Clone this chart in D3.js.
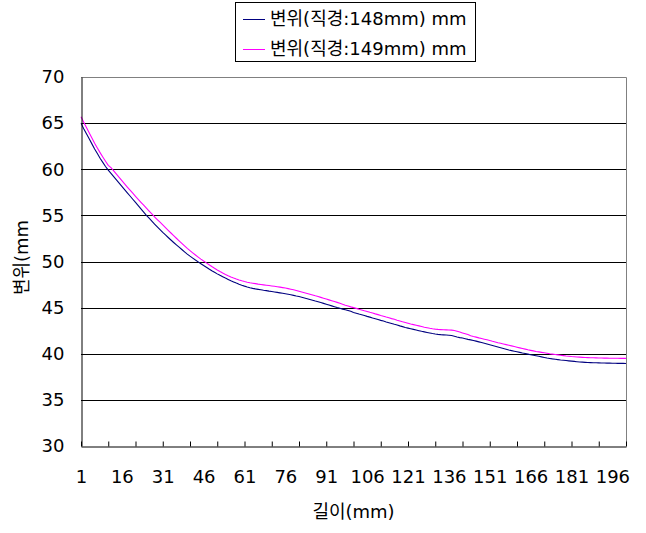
<!DOCTYPE html>
<html><head><meta charset="utf-8">
<script src="https://cdn.jsdelivr.net/npm/d3@7/dist/d3.min.js"></script>
<style>
body{margin:0;background:#fff;}
svg{display:block;}
text{font-family:"DejaVu Sans","Noto Sans CJK KR",sans-serif;fill:#000;}
</style></head>
<body><svg id="c" width="646" height="533"></svg>
<script>
const seriesNames = ["변위(직경:148mm) mm", "변위(직경:149mm) mm"];
const seriesColors = ["#000080", "#ff00ff"];
const xTitle = "길이(mm)";
const yTitle = "변위(mm";
const yTicks = [30,35,40,45,50,55,60,65,70];
const xTickLabels = [1,16,31,46,61,76,91,106,121,136,151,166,181,196];
const xTickMarks = [1,11,21,31,41,51,61,71,81,91,101,111,121,131,141,151,161,171,181,191,201];

const d148 = [
65.00,64.40,63.85,63.30,62.75,62.20,61.70,61.20,60.75,60.30,
59.90,59.55,59.20,58.85,58.50,58.15,57.80,57.45,57.10,56.75,
56.40,56.05,55.70,55.35,55.00,54.70,54.38,54.06,53.75,53.45,
53.15,52.88,52.60,52.33,52.06,51.80,51.55,51.30,51.05,50.80,
50.58,50.37,50.16,49.96,49.76,49.56,49.37,49.18,49.00,48.83,
48.66,48.50,48.35,48.20,48.06,47.92,47.79,47.66,47.54,47.43,
47.33,47.24,47.16,47.09,47.03,46.98,46.93,46.88,46.84,46.79,
46.75,46.70,46.65,46.60,46.55,46.50,46.45,46.40,46.33,46.26,
46.20,46.12,46.04,45.96,45.88,45.80,45.71,45.63,45.55,45.46,
45.37,45.28,45.19,45.10,45.01,44.93,44.84,44.76,44.68,44.60,
44.48,44.40,44.31,44.23,44.14,44.05,43.97,43.88,43.80,43.71,
43.62,43.54,43.45,43.37,43.28,43.19,43.11,43.02,42.94,42.85,
42.78,42.71,42.64,42.57,42.50,42.43,42.37,42.31,42.25,42.19,
42.14,42.10,42.07,42.05,42.03,42.01,41.97,41.90,41.82,41.75,
41.70,41.63,41.56,41.50,41.44,41.37,41.29,41.21,41.13,41.05,
40.97,40.89,40.81,40.73,40.65,40.57,40.49,40.40,40.34,40.28,
40.22,40.15,40.08,40.02,39.96,39.90,39.84,39.78,39.72,39.66,
39.60,39.54,39.49,39.44,39.40,39.36,39.32,39.29,39.26,39.23,
39.20,39.17,39.14,39.11,39.09,39.07,39.05,39.04,39.03,39.02,
39.01,39.00,38.99,38.98,38.98,38.97,38.97,38.96,38.96,38.96,38.95
];
const d149 = [
65.70,65.10,64.52,63.95,63.38,62.82,62.30,61.80,61.32,60.86,
60.42,60.18,59.82,59.47,59.12,58.77,58.42,58.07,57.73,57.40,
57.07,56.74,56.42,56.10,55.78,55.47,55.16,54.85,54.55,54.26,
53.96,53.67,53.38,53.09,52.80,52.52,52.24,51.97,51.70,51.43,
51.18,50.94,50.71,50.48,50.26,50.05,49.85,49.65,49.45,49.26,
49.08,48.91,48.75,48.60,48.46,48.33,48.21,48.10,48.00,47.91,
47.83,47.76,47.70,47.65,47.60,47.55,47.51,47.47,47.43,47.39,
47.35,47.31,47.27,47.22,47.17,47.12,47.06,47.00,46.93,46.86,
46.78,46.70,46.62,46.54,46.46,46.37,46.28,46.20,46.11,46.02,
45.93,45.84,45.75,45.66,45.57,45.48,45.36,45.26,45.17,45.08,
45.00,44.92,44.83,44.75,44.66,44.58,44.49,44.41,44.32,44.24,
44.15,44.07,43.98,43.90,43.81,43.73,43.64,43.56,43.47,43.39,
43.31,43.23,43.16,43.09,43.02,42.95,42.88,42.82,42.76,42.71,
42.67,42.64,42.62,42.60,42.59,42.58,42.56,42.52,42.44,42.35,
42.26,42.17,42.08,41.95,41.87,41.80,41.72,41.65,41.58,41.51,
41.43,41.35,41.28,41.20,41.13,41.06,40.99,40.92,40.85,40.78,
40.71,40.64,40.57,40.50,40.43,40.37,40.31,40.25,40.20,40.15,
40.10,40.05,40.00,39.96,39.92,39.88,39.84,39.80,39.76,39.73,
39.70,39.68,39.65,39.63,39.61,39.59,39.58,39.57,39.56,39.55,
39.54,39.54,39.53,39.53,39.52,39.52,39.51,39.51,39.50,39.50,39.50
];
const series = [d148, d149];

const svg = d3.select("#c");
const L = 81, R = 626, T = 77, B = 446;
const x = d3.scaleLinear().domain([1, d148.length]).range([L, R]);
const y = d3.scaleLinear().domain([30, 70]).range([B, T]);
const FS = 18;

// gridlines
svg.append("g").selectAll("line").data(yTicks.filter(v => v > 30 && v < 70)).join("line")
  .attr("x1", L).attr("x2", R).attr("y1", d => Math.round(y(d)) + 0.5).attr("y2", d => Math.round(y(d)) + 0.5)
  .attr("stroke", "#000").attr("stroke-width", 1);
// top/right border gray
svg.append("path").attr("d", `M${L},${T+0.5}H${R+0.5}V${B}`).attr("fill","none").attr("stroke","#808080");

// lines
const line = d3.line().x((d,i) => x(i+1)).y(d => y(d));
series.forEach((s, k) => {
  svg.append("path").datum(s).attr("d", line).attr("fill", "none")
    .attr("stroke", seriesColors[k]).attr("stroke-width", 1.1);
});

// x axis with tick marks pointing up
const xa = svg.append("g").attr("transform", `translate(0,${B+0.5})`)
  .call(d3.axisBottom(x).tickValues(xTickMarks).tickSizeInner(-5).tickSizeOuter(0).tickFormat(""));
xa.select(".domain").attr("stroke", "#000");
xa.selectAll(".tick line").attr("stroke", "#000");
const xl = svg.append("g").attr("transform", `translate(0,${B})`)
  .call(d3.axisBottom(x).tickValues(xTickLabels).tickSize(0).tickPadding(24).tickFormat(d3.format("d")));
xl.select(".domain").remove();
xl.selectAll("text").attr("font-size", FS).attr("font-family", null);

// y axis
const ya = svg.append("g").attr("transform", `translate(${L+0.5},0)`)
  .call(d3.axisLeft(y).tickValues(yTicks).tickSize(0).tickPadding(17).tickFormat(d3.format("d")));
ya.select(".domain").attr("stroke", "#000");
ya.selectAll("text").attr("font-size", FS).attr("font-family", null);

// titles
svg.append("text").attr("x", (L+R)/2).attr("y", 518).attr("text-anchor","middle").attr("font-size", FS).text(xTitle);
svg.append("text").attr("transform", `translate(28,${(T+B)/2 - 4}) rotate(-90)`).attr("text-anchor","middle").attr("font-size", FS).text(yTitle);

// legend
const lg = svg.append("g");
lg.append("rect").attr("x", 235.5).attr("y", 2.5).attr("width", 240).attr("height", 59).attr("fill","#fff").attr("stroke","#000");
seriesNames.forEach((n, k) => {
  const yy = 19 + k*30;
  lg.append("line").attr("x1", 243).attr("x2", 265).attr("y1", yy+0.5).attr("y2", yy+0.5).attr("stroke", seriesColors[k]);
  lg.append("text").attr("x", 270).attr("y", yy).attr("dy","0.35em").attr("font-size", FS).text(n);
});
</script></body></html>
